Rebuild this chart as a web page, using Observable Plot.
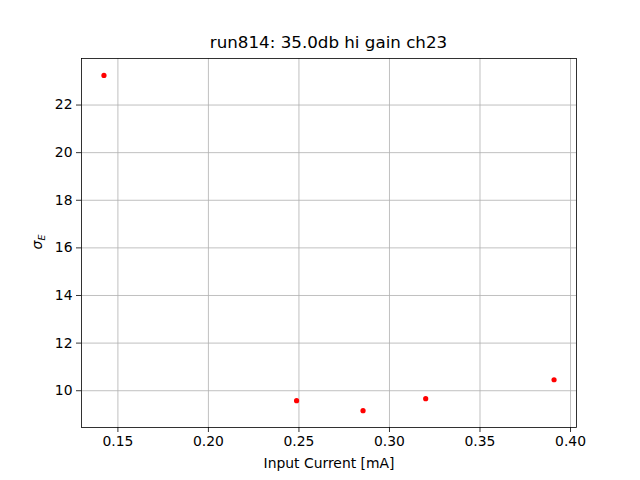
<!DOCTYPE html>
<html>
<head>
<meta charset="utf-8">
<script src="https://cdn.jsdelivr.net/npm/d3@7"></script>
<script src="https://cdn.jsdelivr.net/npm/@observablehq/plot@0.6"></script>
<style>
  body { margin: 0; background: #fff; }
  #wrap { position: relative; width: 640px; height: 480px; font-family: "DejaVu Sans", sans-serif; }
  #title { position: absolute; left: 81px; width: 495px; top: 32px; text-align: center; font-size: 16.7px; color: #000; }
  #ylab { position: absolute; left: 38px; top: 242px; transform: translate(-50%, -50%) rotate(-90deg); font-size: 13.9px; font-style: italic; white-space: nowrap; }
  #ylab sub { font-size: 9.5px; }
</style>
</head>
<body>
<div id="wrap">
  <div id="chart"></div>
  <div id="title">run814: 35.0db hi gain ch23</div>
  <div id="ylab">σ<sub>E</sub></div>
</div>
<script>
const current = [0.1423, 0.2487, 0.2854, 0.3200, 0.3909];
const sigmaE = [23.245, 9.58, 9.16, 9.665, 10.46];
const xTicks = [0.15, 0.20, 0.25, 0.30, 0.35, 0.40];
const yTicks = [10, 12, 14, 16, 18, 20, 22];
const xLabel = "Input Current [mA]";

const data = current.map((c, i) => ({x: c, y: sigmaE[i]}));

const chart = Plot.plot({
  width: 640,
  height: 480,
  marginLeft: 81,
  marginRight: 64,
  marginTop: 58,
  marginBottom: 53,
  style: { fontFamily: "DejaVu Sans, sans-serif", fontSize: "13.9px", color: "#000", background: "#fff" },
  x: { domain: [0.1299, 0.4033] },
  y: { domain: [8.455, 23.955] },
  marks: [
    Plot.gridX(xTicks, { stroke: "#b0b0b0", strokeOpacity: 1, strokeWidth: 0.8 }),
    Plot.gridY(yTicks, { stroke: "#b0b0b0", strokeOpacity: 1, strokeWidth: 0.8 }),
    Plot.axisX(xTicks, { tickSize: 5, tickPadding: 4, tickFormat: d3.format(".2f"), label: xLabel, labelAnchor: "center", labelArrow: "none", labelOffset: 40, strokeWidth: 0.8 }),
    Plot.axisY(yTicks, { tickSize: 5, tickPadding: 4, tickFormat: d => String(d), label: null, strokeWidth: 0.8 }),
    Plot.dot(data, { x: "x", y: "y", r: 2.6, fill: "red", stroke: "none" }),
    Plot.frame({ stroke: "#000", strokeWidth: 0.8 })
  ]
});
document.getElementById("chart").appendChild(chart);
</script>
</body>
</html>
